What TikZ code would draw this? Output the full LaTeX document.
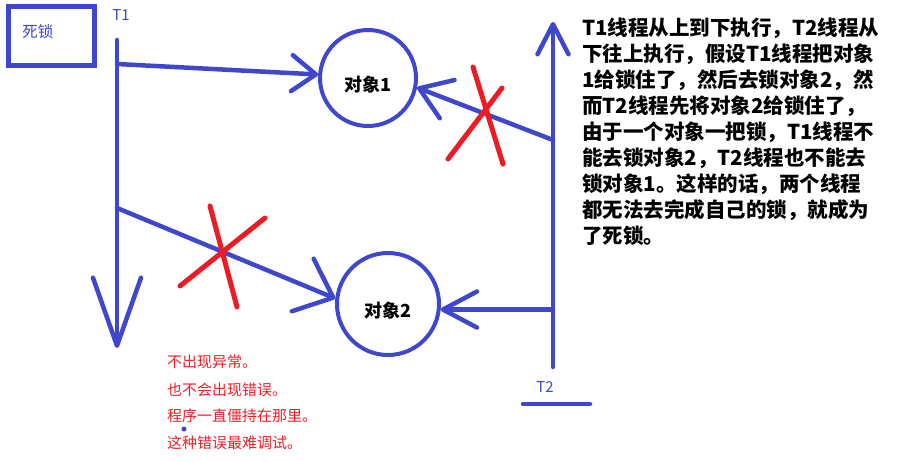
\documentclass[tikz,border=0pt]{standalone}
\usepackage{fontspec}
\setmainfont{Noto Sans CJK SC}
\usepackage{tikz}
\usetikzlibrary{arrows.meta}
\definecolor{paintblue}{RGB}{63,72,204}
\definecolor{paintred}{RGB}{237,28,36}
\definecolor{notered}{RGB}{240,30,40}
\tikzset{
  thread-line/.style={draw=paintblue, line width=4.5pt, line cap=round},
  paint-arrow/.style 2 args={thread-line, -{Straight Barb[length=#1, width=#2, round]}},
  object-node/.style={circle, draw=paintblue, line width=4pt, inner sep=0pt},
  object-label/.style={font=\fontsize{18}{18}\selectfont\bfseries, text=black, inner sep=0pt},
  thread-label/.style={font=\fontsize{15}{15}\selectfont, text=paintblue, inner sep=0pt},
  title-box/.style={draw=paintblue, line width=5pt, minimum width=86pt, minimum height=59pt, inner sep=0pt},
  cross-line/.style={draw=paintred, line width=5pt, line cap=round},
  note-text/.style={font=\fontsize{15}{15}\selectfont, text=notered, anchor=west, inner sep=0pt},
  explain-text/.style={font=\fontsize{20.5}{26}\selectfont\bfseries, align=left, anchor=north west, inner sep=0pt}
}
\begin{document}
\begin{tikzpicture}[x=1pt, y=-1pt]
\useasboundingbox (0,0) rectangle (903,461);

% Title frame
\node[title-box] (title-frame) at (51,36) {};
\node[thread-label, font=\fontsize{15.5}{15.5}\selectfont] (title-name) at (38,32) {死锁};

% Objects
\node[object-node, minimum size=96pt] (obj1) at (368,78) {};
\node[object-label] (obj1-name) at ([yshift=-7pt]obj1.center) {对象1};
\node[object-node, minimum size=102pt] (obj2) at (388,304) {};
\node[object-label] (obj2-name) at ([yshift=-7pt]obj2.center) {对象2};

% Thread T1 (top to bottom)
\node[thread-label] (t1-name) at (121,15) {T1};
\coordinate (t1-top) at (117,40);
\coordinate (t1-end) at (117,348);
\coordinate (t1-fork1) at (117,64);
\coordinate (t1-fork2) at (117,208);
\draw[paint-arrow={68pt}{48pt}] (t1-top) -- (t1-end);
\draw[paint-arrow={24pt}{36pt}] (t1-fork1) -- (obj1.176);
\draw[paint-arrow={33pt}{57pt}] (t1-fork2) -- (obj2.174);

% Thread T2 (bottom to top)
\node[thread-label] (t2-name) at (545,387) {T2};
\coordinate (t2-bot) at (553,367);
\coordinate (t2-end) at (553,22);
\coordinate (t2-fork1) at (553,140);
\coordinate (base-l) at (523,404);
\coordinate (base-r) at (590,404);
\draw[paint-arrow={30pt}{31pt}] (t2-bot) -- (t2-end);
\draw[paint-arrow={30pt}{41pt}] (t2-fork1) -- (obj1.-11);
\draw[paint-arrow={34pt}{36pt}] (obj2.-6 -| t2-bot) -- (obj2.-6);
\draw[thread-line] (base-l) -- (base-r);

% Blocked requests
\draw[cross-line] (473,67) -- (503,164);
\draw[cross-line] (448,159) -- (502,88);
\draw[cross-line] (210,206) -- (237,307);
\draw[cross-line] (180,286) -- (265,218);

% Notes
\node[note-text] (note1) at (167,362) {不出现异常。};
\node[note-text] (note2) at (167,390) {也不会出现错误。};
\node[note-text] (note3) at (167,416) {程序一直僵持在那里。};
\node[note-text] (note4) at (167,443) {这种错误最难调试。};
\fill[paintblue] (184,429) circle (2.5pt);

% Explanation
\node[explain-text] (explain) at (582,18) {T1线程从上到下执行，T2线程从\\下往上执行，假设T1线程把对象\\1给锁住了，然后去锁对象2，然\\而T2线程先将对象2给锁住了，\\由于一个对象一把锁，T1线程不\\能去锁对象2，T2线程也不能去\\锁对象1。这样的话，两个线程\\都无法去完成自己的锁，就成为\\了死锁。};
\end{tikzpicture}
\end{document}
